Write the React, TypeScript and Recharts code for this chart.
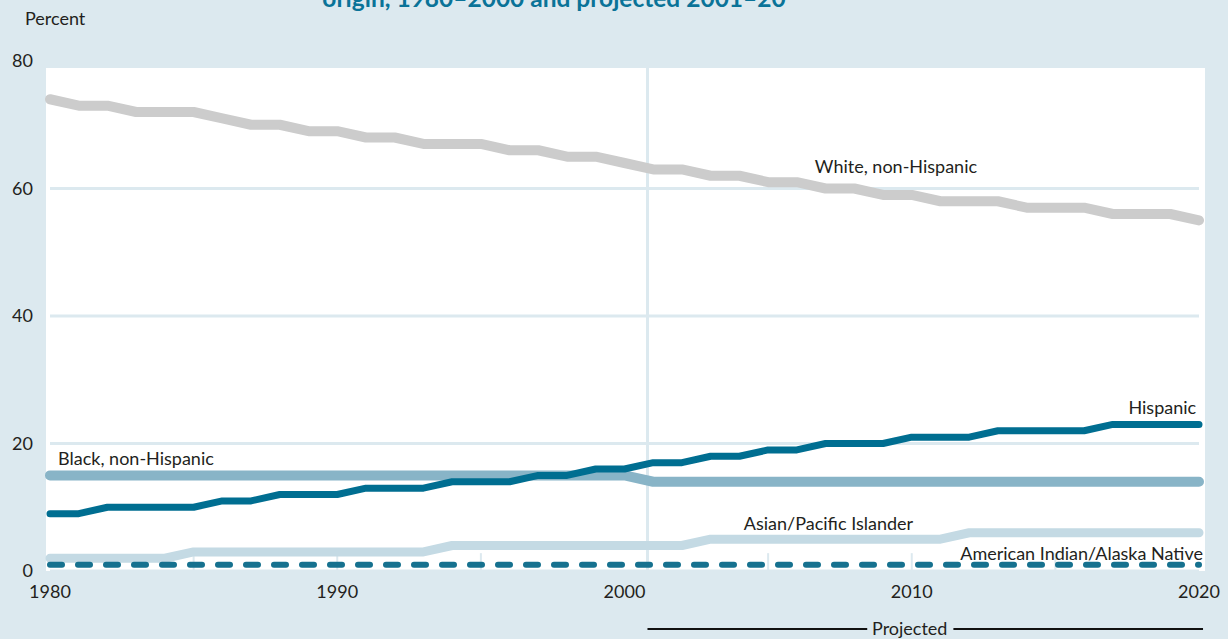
import {
  LineChart,
  Line,
  XAxis,
  YAxis,
  CartesianGrid,
  ReferenceLine,
  ReferenceDot,
} from 'recharts';

const years = [
  1980, 1981, 1982, 1983, 1984, 1985, 1986, 1987, 1988, 1989, 1990, 1991, 1992, 1993,
  1994, 1995, 1996, 1997, 1998, 1999, 2000, 2001, 2002, 2003, 2004, 2005, 2006, 2007,
  2008, 2009, 2010, 2011, 2012, 2013, 2014, 2015, 2016, 2017, 2018, 2019, 2020,
];
const white = [
  74, 73, 73, 72, 72, 72, 71, 70, 70, 69, 69, 68, 68, 67, 67, 67, 66, 66, 65, 65, 64,
  63, 63, 62, 62, 61, 61, 60, 60, 59, 59, 58, 58, 58, 57, 57, 57, 56, 56, 56, 55,
];
const black = [
  15, 15, 15, 15, 15, 15, 15, 15, 15, 15, 15, 15, 15, 15, 15, 15, 15, 15, 15, 15, 15,
  14, 14, 14, 14, 14, 14, 14, 14, 14, 14, 14, 14, 14, 14, 14, 14, 14, 14, 14, 14,
];
const hispanic = [
  9, 9, 10, 10, 10, 10, 11, 11, 12, 12, 12, 13, 13, 13, 14, 14, 14, 15, 15, 16, 16,
  17, 17, 18, 18, 19, 19, 20, 20, 20, 21, 21, 21, 22, 22, 22, 22, 23, 23, 23, 23,
];
const asian = [
  2, 2, 2, 2, 2, 3, 3, 3, 3, 3, 3, 3, 3, 3, 4, 4, 4, 4, 4, 4, 4,
  4, 4, 5, 5, 5, 5, 5, 5, 5, 5, 5, 6, 6, 6, 6, 6, 6, 6, 6, 6,
];
const amInd = [
  1, 1, 1, 1, 1, 1, 1, 1, 1, 1, 1, 1, 1, 1, 1, 1, 1, 1, 1, 1, 1,
  1, 1, 1, 1, 1, 1, 1, 1, 1, 1, 1, 1, 1, 1, 1, 1, 1, 1, 1, 1,
];
const xTicks = [1980, 1990, 2000, 2010, 2020];
const yTicks = [0, 20, 40, 60, 80];
const minorTicks = [1985, 1990, 1995, 2005, 2010, 2015];

const data = years.map((year, i) => ({
  year,
  white: white[i],
  black: black[i],
  hispanic: hispanic[i],
  asian: asian[i],
  amInd: amInd[i],
}));

const BG = '#dce9ef';
const TEXT = '#231f20';
const FONT = 'Lato, "Noto Sans", sans-serif';

const labelStyle = { fill: TEXT, fontSize: 18, fontFamily: FONT };

export default function App() {
  return (
    <div
      style={{
        position: 'absolute',
        left: 0,
        top: 0,
        width: 1228,
        height: 639,
        background: BG,
        overflow: 'hidden',
        fontFamily: FONT,
      }}
    >
      {/* white plot panel */}
      <div
        style={{ position: 'absolute', left: 46, top: 68, width: 1159, height: 503, background: '#fff' }}
      />
      {/* title, cut off at the top edge as in the source */}
      <svg style={{ position: 'absolute', left: 0, top: 0 }} width={1228} height={30}>
        <text
          x={554}
          y={7}
          textAnchor="middle"
          fill="#0a7398"
          fontSize={24.5}
          fontWeight={700}
          fontFamily={FONT}
        >
          origin, 1980–2000 and projected 2001–20
        </text>
      </svg>
      <div style={{ position: 'absolute', left: 0, top: 0 }}>
        <LineChart
          width={1228}
          height={639}
          data={data}
          margin={{ top: 61, right: 29, left: 0, bottom: 0 }}
        >
          <CartesianGrid vertical={false} stroke={BG} strokeWidth={3} />
          <XAxis
            dataKey="year"
            type="number"
            domain={[1980, 2020]}
            ticks={xTicks}
            height={68}
            axisLine={false}
            tickLine={false}
            tickSize={0}
            tickMargin={14}
            tick={{ fill: TEXT, fontSize: 18, fontFamily: FONT }}
          />
          <YAxis
            domain={[0, 80]}
            ticks={yTicks}
            width={50}
            axisLine={false}
            tickLine={false}
            tickSize={0}
            tickMargin={17}
            tick={{ fill: TEXT, fontSize: 18, fontFamily: FONT }}
          />
          <ReferenceLine x={2000.8} stroke={BG} strokeWidth={3} />
          {minorTicks.map((t) => (
            <ReferenceLine
              key={t}
              segment={[
                { x: t, y: 0 },
                { x: t, y: 2.8 },
              ]}
              stroke={BG}
              strokeWidth={2}
            />
          ))}
          <Line
            dataKey="white"
            stroke="#cccccc"
            strokeWidth={10}
            dot={false}
            strokeLinecap="round"
            strokeLinejoin="round"
            isAnimationActive={false}
          />
          <Line
            dataKey="black"
            stroke="#88b4c7"
            strokeWidth={10}
            dot={false}
            strokeLinecap="round"
            strokeLinejoin="round"
            isAnimationActive={false}
          />
          <Line
            dataKey="hispanic"
            stroke="#006e91"
            strokeWidth={7}
            dot={false}
            strokeLinecap="round"
            strokeLinejoin="round"
            isAnimationActive={false}
          />
          <Line
            dataKey="asian"
            stroke="#c4dae4"
            strokeWidth={9}
            dot={false}
            strokeLinecap="round"
            strokeLinejoin="round"
            isAnimationActive={false}
          />
          <Line
            dataKey="amInd"
            stroke="#16718f"
            strokeWidth={6}
            strokeDasharray="12 16"
            dot={false}
            strokeLinecap="round"
            strokeLinejoin="round"
            isAnimationActive={false}
          />

          <ReferenceDot x={2009.45} y={63.5} r={0} label={{ value: 'White, non-Hispanic', position: 'center', ...labelStyle }} />
          <ReferenceDot x={2019.9} y={25.7} r={0} label={{ value: 'Hispanic', position: 'left', offset: 0, ...labelStyle }} />
          <ReferenceDot x={1980.28} y={17.7} r={0} label={{ value: 'Black, non-Hispanic', position: 'right', offset: 0, ...labelStyle }} />
          <ReferenceDot x={2007.1} y={7.5} r={0} label={{ value: 'Asian/Pacific Islander', position: 'center', ...labelStyle }} />
          <ReferenceDot x={2020} y={2.8} r={0} label={{ value: 'American Indian/Alaska Native', position: 'left', offset: -4, ...labelStyle }} />
          <ReferenceDot
            x={1979.13}
            y={86.7}
            r={0}
            ifOverflow="visible"
            label={{ value: 'Percent', position: 'right', offset: 0, ...labelStyle }}
          />

          {/* projected bracket */}
          <ReferenceLine
            segment={[
              { x: 2000.8, y: -9.1 },
              { x: 2008.45, y: -9.1 },
            ]}
            ifOverflow="visible"
            stroke="#111"
            strokeWidth={2}
          />
          <ReferenceLine
            segment={[
              { x: 2011.45, y: -9.1 },
              { x: 2020.14, y: -9.1 },
            ]}
            ifOverflow="visible"
            stroke="#111"
            strokeWidth={2}
          />
          <ReferenceDot
            x={2009.93}
            y={-9.1}
            r={0}
            ifOverflow="visible"
            label={{ value: 'Projected', position: 'center', ...labelStyle }}
          />
        </LineChart>
      </div>
    </div>
  );
}
